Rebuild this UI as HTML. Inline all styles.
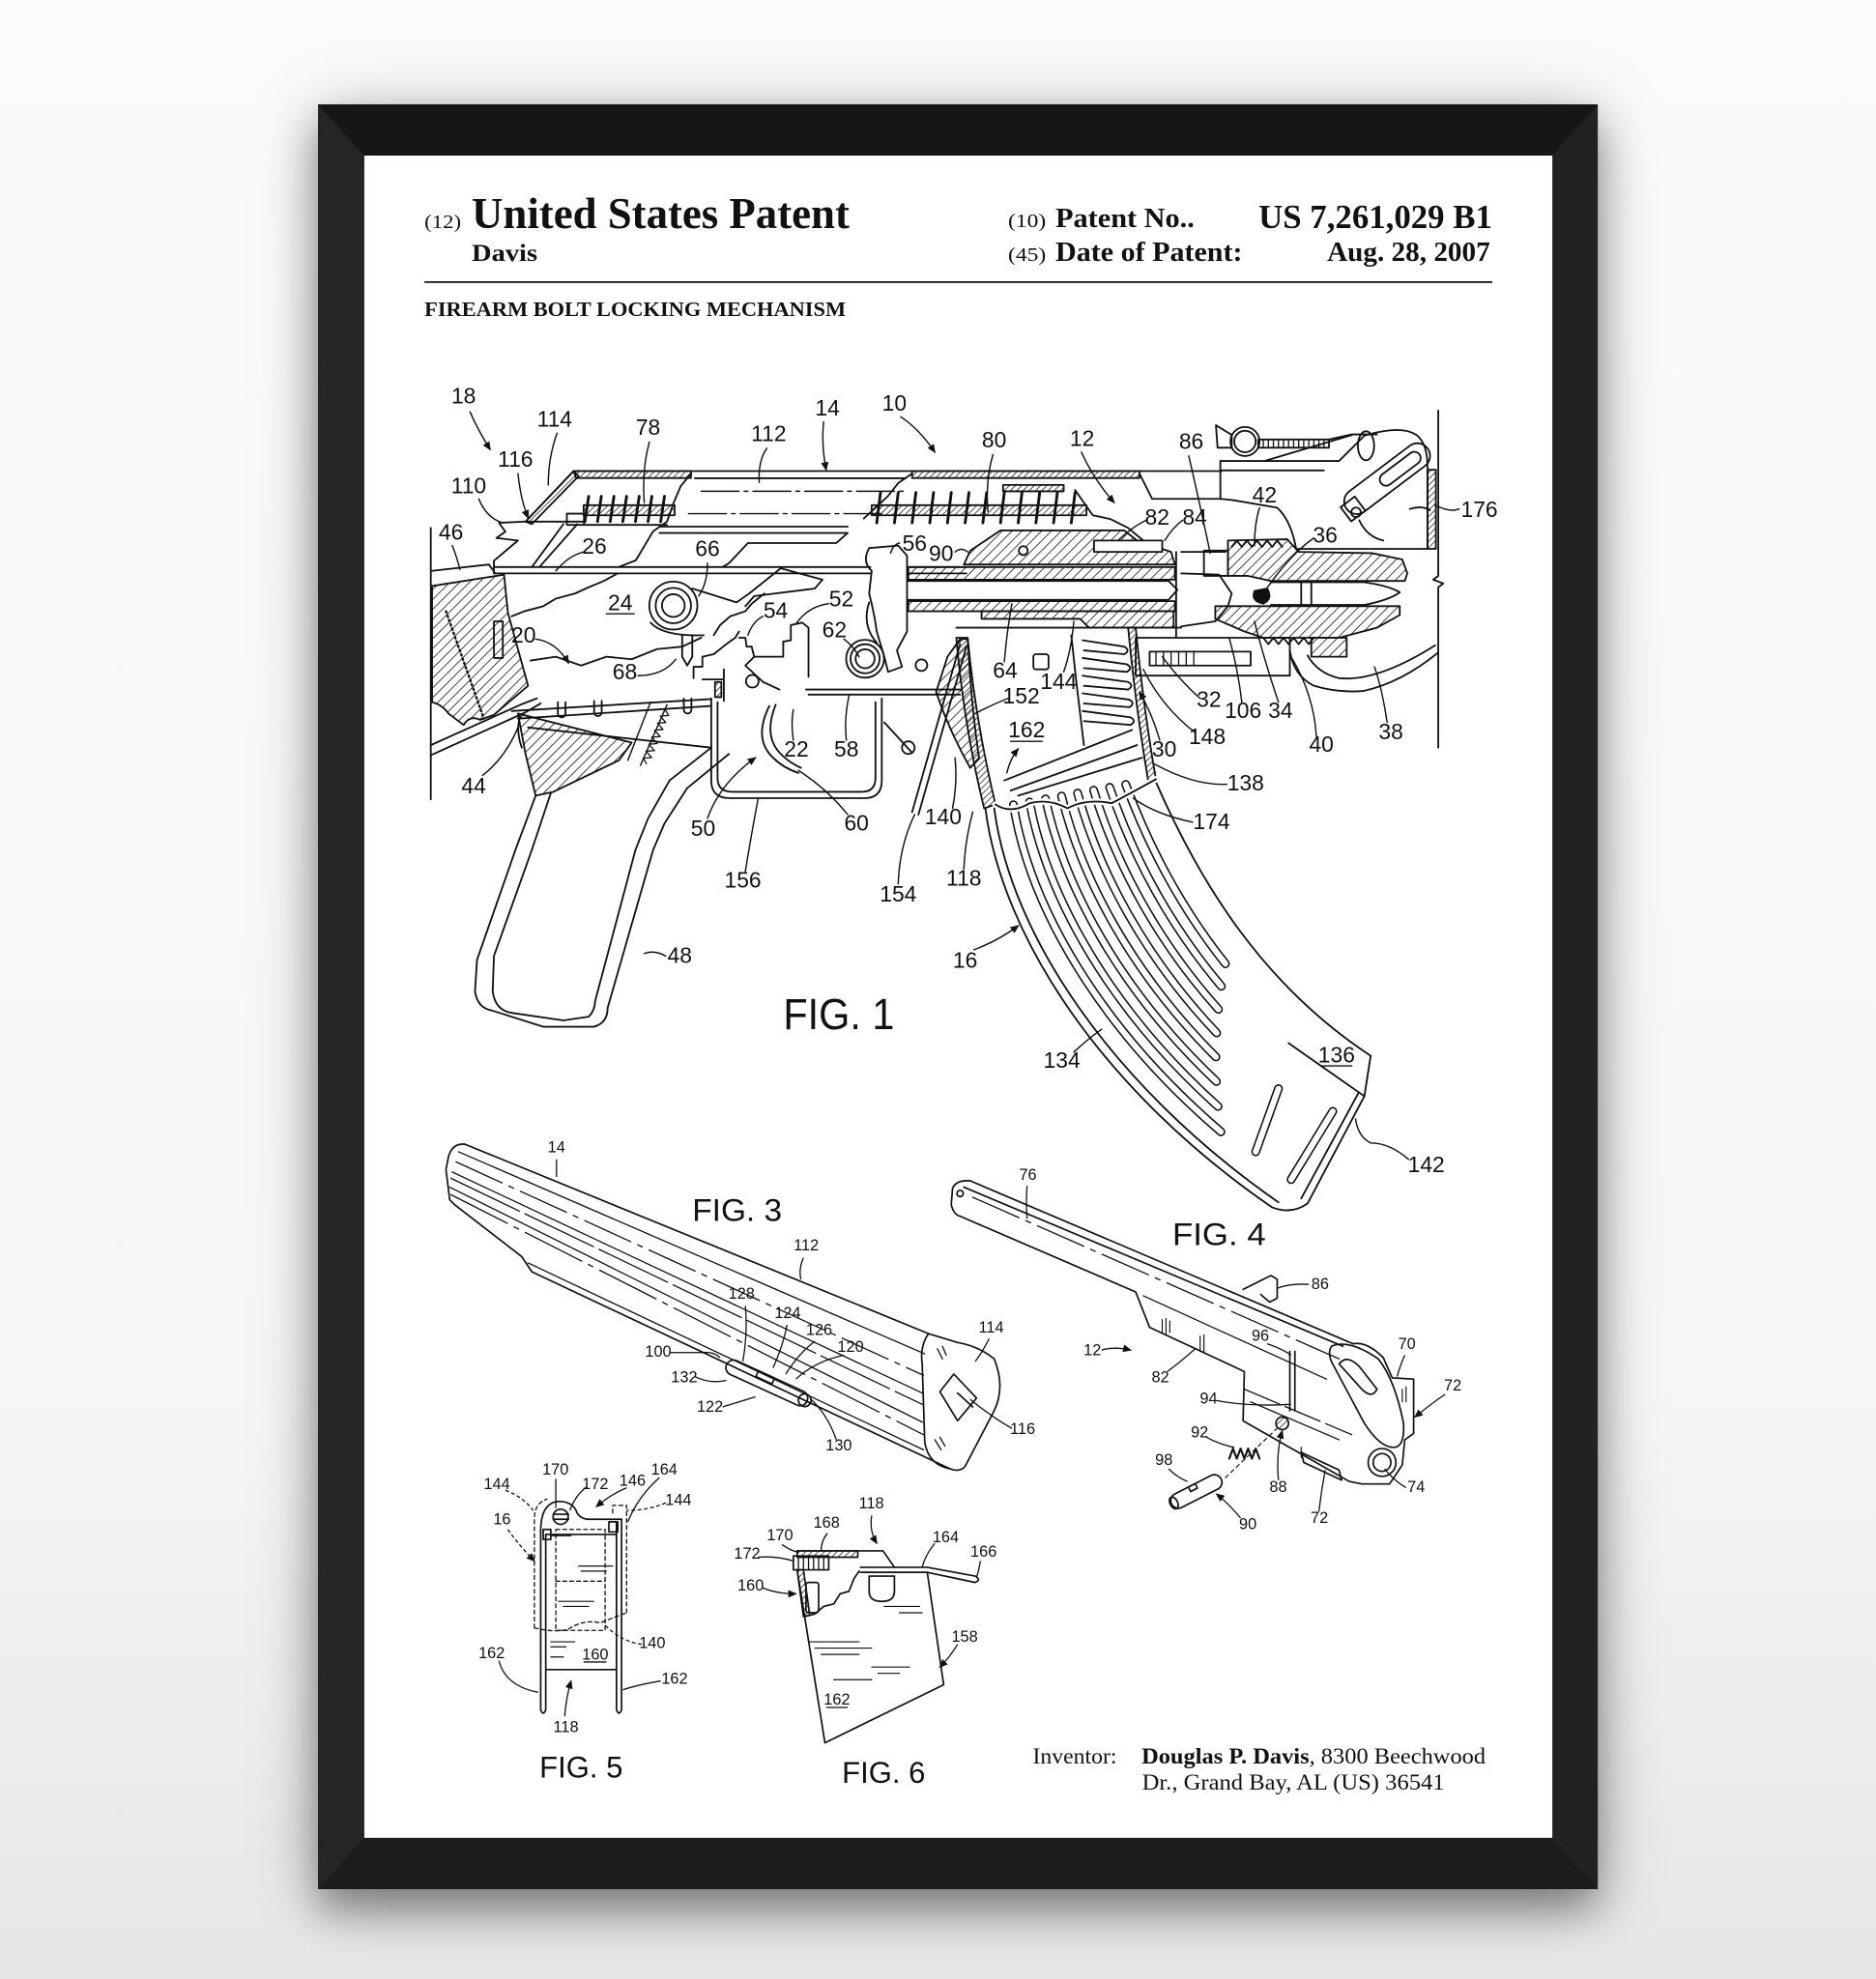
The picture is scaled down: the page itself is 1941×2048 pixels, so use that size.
<!DOCTYPE html>
<html><head><meta charset="utf-8"><style>
html,body{margin:0;padding:0;}
body{width:1941px;height:2048px;position:relative;overflow:hidden;background:linear-gradient(180deg,#fbfbfb 0%,#f6f6f6 70%,#e6e6e6 100%);}
.sh{position:absolute;left:329px;top:108px;width:1324px;height:1847px;box-shadow:0 22px 40px rgba(0,0,0,0.38),0 6px 70px rgba(0,0,0,0.22);}
svg{position:absolute;left:0;top:0;}
.n{font-family:"Liberation Sans Narrow","Liberation Sans",Arial,sans-serif;font-size:17.5px;text-anchor:middle;fill:#111;}
.s{font-family:"Liberation Sans Narrow","Liberation Sans",Arial,sans-serif;font-size:12.5px;text-anchor:middle;fill:#111;}
.f{font-family:"Liberation Sans",Arial,sans-serif;fill:#111;}
.t{font-family:"Liberation Serif","Times New Roman",serif;fill:#111;}
.tb{font-family:"Liberation Serif","Times New Roman",serif;font-weight:bold;fill:#111;}
</style></head><body>
<div class="sh"></div>
<svg width="1941" height="2048" viewBox="0 0 1485 1567" preserveAspectRatio="none" xmlns="http://www.w3.org/2000/svg">
<defs>
<pattern id="h" width="5.5" height="5.5" patternUnits="userSpaceOnUse" patternTransform="rotate(45)"><line x1="0" y1="0" x2="0" y2="5.5" stroke="#111" stroke-width="1.2"/></pattern>
<pattern id="hd" width="3.5" height="3.5" patternUnits="userSpaceOnUse" patternTransform="rotate(45)"><line x1="0" y1="0" x2="0" y2="3.5" stroke="#111" stroke-width="1.1"/></pattern>
<marker id="ar" markerWidth="7" markerHeight="6" refX="6" refY="3" orient="auto" markerUnits="userSpaceOnUse"><path d="M0,0 L7,3 L0,6 Z" fill="#111"/></marker>
</defs>

<!-- FRAME -->
<rect x="251.7" y="82.6" width="1013" height="1413.2" fill="#1a1a1a"/>
<polygon points="251.7,82.6 1264.7,82.6 1228.8,123.2 288.4,123.2" fill="#161616"/>
<polygon points="251.7,1495.8 1264.7,1495.8 1228.8,1455.2 288.4,1455.2" fill="#1c1c1c"/>
<polygon points="251.7,82.6 288.4,123.2 288.4,1455.2 251.7,1495.8" fill="#252525"/>
<polygon points="1264.7,82.6 1228.8,123.2 1228.8,1455.2 1264.7,1495.8" fill="#222"/>
<rect x="288.4" y="123.2" width="940.4" height="1332" fill="#fff"/>

<!-- HEADER -->
<text class="t" x="336" y="180.6" font-size="15" textLength="29" lengthAdjust="spacingAndGlyphs">(12)</text>
<text class="tb" x="373.4" y="180.6" font-size="34.5" textLength="299" lengthAdjust="spacingAndGlyphs">United States Patent</text>
<text class="tb" x="373.4" y="206.6" font-size="19.5" textLength="52" lengthAdjust="spacingAndGlyphs">Davis</text>
<text class="t" x="798" y="179.8" font-size="15" textLength="30" lengthAdjust="spacingAndGlyphs">(10)</text>
<text class="tb" x="835.5" y="179.8" font-size="21.5" textLength="110" lengthAdjust="spacingAndGlyphs">Patent No..</text>
<text class="tb" x="996.2" y="180.6" font-size="27" textLength="185" lengthAdjust="spacingAndGlyphs">US 7,261,029 B1</text>
<text class="t" x="798" y="206.6" font-size="15" textLength="30" lengthAdjust="spacingAndGlyphs">(45)</text>
<text class="tb" x="835.5" y="206.6" font-size="21.5" textLength="148" lengthAdjust="spacingAndGlyphs">Date of Patent:</text>
<text class="tb" x="1050.5" y="206.6" font-size="21.5" textLength="129" lengthAdjust="spacingAndGlyphs">Aug. 28, 2007</text>
<line x1="336" y1="223.4" x2="1181.3" y2="223.4" stroke="#222" stroke-width="1.4"/>
<text class="tb" x="336" y="250.2" font-size="16" textLength="333.5" lengthAdjust="spacingAndGlyphs">FIREARM BOLT LOCKING MECHANISM</text>

<!-- FIG 1 DRAWING -->
<g fill="none" stroke="#111" stroke-width="1.4" stroke-linejoin="round" stroke-linecap="round">
<!-- stock -->
<path d="M341,418 V633"/>
<path d="M342,464 L399,455 L402,485 L418,543 L391,566 L380,570 Q372,566 367,574 L355,565 Q350,558 342,556 Z" fill="url(#h)"/>
<path d="M353,484 L383,569" stroke-width="1.8" stroke-dasharray="1.2 2.4"/>
<path d="M342,452 L387,447 L392,454"/>
<path d="M341,598 L416,564 L428,557"/><path d="M341,590 L412,558 L425,553"/>
<rect x="391" y="492" width="7" height="29"/>
<!-- receiver rear & cover -->
<path d="M391,454 L391,444 L410,428 L393,426 L400,421 L395,414 L416,413 L454,373 L967,373"/>
<polygon points="416,413 454,373 458,377 421,415" fill="url(#hd)"/>
<polygon points="454,373 547,373 547,378.5 456,378.5" fill="url(#hd)"/>
<polygon points="722,373 902,373 902,378.5 722,378.5" fill="url(#hd)"/>
<path d="M550,378.7 H717"/>
<path d="M555,389 H718" stroke-dasharray="30 4 3 4" stroke-width="1.1"/>
<path d="M545,406.7 H700" stroke-dasharray="30 4 3 4" stroke-width="1.1"/>
<path d="M522,417 H671"/><path d="M522,422 H671 L662,430 L592,430 L577,446 L572,449"/>
<path d="M547,375 L538.8,385 L533.4,397.8 L528,413 L517,420.7 L503.3,443.7 L489.7,449"/>
<path d="M722,375 L711,382.5 L703,392.7 L692,403 L683.7,410.6"/>
<path d="M902,375 L912,395 L967,395"/>
<!-- springs -->
<rect x="448.7" y="406.7" width="13.6" height="8.9"/>
<rect x="462" y="400" width="72" height="8" fill="url(#hd)"/>
<path d="M466,393 l-3,20 M476,393 l-3,20 M486,393 l-3,20 M496,393 l-3,20 M506,393 l-3,20 M516,393 l-3,20 M526,393 l-3,20" stroke-width="2.2"/>
<rect x="690" y="400" width="170" height="8" fill="url(#hd)"/>
<path d="M697,390 l-3,24 M711,390 l-3,24 M725,390 l-3,24 M739,390 l-3,24 M753,390 l-3,24 M767,390 l-3,24 M781,390 l-3,24 M795,390 l-3,24 M809,390 l-3,24 M823,390 l-3,24 M837,390 l-3,24 M851,390 l-3,24" stroke-width="2.2"/>
<rect x="794" y="384" width="48" height="5" fill="url(#hd)"/>
<path d="M851,388 L865,408 L879,411 L893,418 L905,428"/>
<path d="M416,413 H462 M462,415.6 H528"/>
<path d="M446,415 L421,449 M457,415 L427,449"/>
<!-- receiver lines -->
<path d="M391,449 H689 M391,454 H689 M720,449 H765 M720,454 H765"/>
<!-- jagged breaks -->
<path d="M489,454 L478,460 L466,465 L455,470 L440,474 L430,480 L415,484 L405,488"/>
<path d="M420,523 L440,520 L460,527 L480,520 L500,522 L520,514 L540,512 L555,505"/>
<path d="M605,470 L595,478 L590,484 L578,488 L570,495 L565,503"/>
<!-- hammer -->
<circle cx="533" cy="479.5" r="19"/><circle cx="533" cy="479.5" r="14"/><circle cx="533" cy="479.5" r="9"/>
<path d="M548,466 L583,477 L593,470 L618,450 L651,459 L645,466 L597,472 L590,480"/>
<path d="M515,493 Q525,504 557,503"/>
<path d="M540,503 L540,520 L544,527 L548,520 L548,503"/>
<!-- trigger group -->
<path d="M549,537 V528 L556,528 L556,520 L565,518 L575,510 L582,505 L585,500"/>
<path d="M585,505 L590,505 L591,512 L595,512 L597,520 L620,520 L620,508 L626,507 L626,495 L635,493 L640,497 L640,536"/>
<path d="M597,520 L590,527 L604,540 L617,546"/>
<circle cx="595.5" cy="539.4" r="5"/>
<path d="M556,538 H573 M573,530 V555" /><rect x="566" y="540" width="5" height="12" fill="url(#hd)"/>
<path d="M688,434 Q682,445 690,452 L688,470 Q692,485 694,500 L700,520 L703,532 L714,528 L710,515 L718,500 L718,440 L711,432 Z"/>
<circle cx="684.8" cy="521.6" r="15"/><circle cx="684.8" cy="521.6" r="11.5"/><circle cx="684.8" cy="521.6" r="7.5"/>
<path d="M694,509 Q682,495 688,477"/>
<circle cx="729.4" cy="526.7" r="4.6"/>
<path d="M638,546 H760 M640,550 H760"/>
<!-- lower receiver rivets -->
<path d="M405,563 L563,553.5 M410,569 L563,559"/>
<path d="M441.6,556 v9 a3,3 0 0 0 6,0 v-9 M470.3,555 v9 a3,3 0 0 0 6,0 v-9 M541.3,553 v9 a3,3 0 0 0 6,0 v-9"/>
<path d="M519,558 l4,3 l-6,3 l6,3 l-6,3 l6,3 l-6,3 l6,3 l-6,3 l6,3 l-6,3 l6,3 l-6,3 l6,3 l-6,3 l4,3" stroke-width="1" transform="rotate(22 512 580)"/>
<path d="M515,556 L497,602 M528,558 L507,606" stroke-width="1.1"/>
<path d="M418,576 L563,592"/>
<path d="M410,565 L500,588 L490,602 L438,627 L424,630 L416,597 Z" fill="url(#h)"/>
<path d="M412,566 Q408,578 413,592"/>
<!-- trigger guard -->
<path d="M563,553 V618 Q563,632 578,632 H684 Q698,632 698,618 V553"/>
<path d="M568,556 V616 Q568,627 580,627 H682 Q693,627 693,616 V556"/>
<path d="M609,559 Q596,585 612,600 Q620,608 632,612"/>
<path d="M614,558 Q604,583 618,597 Q625,604 634,608"/>
<!-- grip -->
<path d="M563,592 L530,618 L513,648 L503,673 L471,793 Q471,800 466,805 L446,808 L405,802 Q392,800 390,785 L391,757 L421,673 L436,628"/>
<path d="M577,597 L544,624 L526,652 L517,673 L481,798 Q481,810 470,813 L430,813 L389,800 Q378,798 376,785 L377.6,760 L408,673 L424,630"/>
<!-- catch lever -->
<path d="M760,510 L722,643 M765,512 L727,645"/>
<path d="M700,572 L722,596"/><circle cx="719" cy="592" r="5"/>
<path d="M741,548 L750,520 L760,506 L766,506 Q769,560 775,600 L768,608 Q752,580 741,548 Z" fill="url(#h)"/>
<!-- carrier / barrel -->
<path d="M763,447 L768,436 L792,420 L890,420 L900,428 L927,437 L930,447 Z" fill="url(#h)"/>
<rect x="866" y="428" width="54" height="9" fill="#fff"/>
<circle cx="810" cy="436" r="3.5" fill="#fff"/>
<rect x="719" y="449" width="211" height="10" fill="url(#h)"/>
<path d="M719,460 H925 L932,467 L925,475 H719"/>
<rect x="719" y="476" width="211" height="8" fill="url(#h)"/>
<path d="M777,484 L929,484 L929,497 L862,497 L855,490 L777,490 Z" fill="url(#h)"/>
<path d="M931,437 V504 M935,437 H970"/>
<path d="M935,454 L965,455 L975,470 L972,480 L962,492 L935,496"/>
<path d="M972,428 L1019,427 L1028,437 L1086,438 L1110,443 L1114,454 L1112,460 L1006,460 L988,456 L972,456 Z" fill="url(#h)"/>
<path d="M1006,461 H1080 Q1100,464 1108,469 Q1100,475 1080,479 H1006 M1030,461 V479 M1038,461 V479"/>
<path d="M993,468 Q990,476 1000,478 Q1008,474 1003,466 Z" fill="#111"/>
<path d="M962,480 L1108,480 L1108,487 L1090,497 L1060,505 L1000,505 L985,500 L962,490 Z" fill="url(#h)"/>
<path d="M975,433 l4,-5 l4,5 l4,-5 l4,5 l4,-5 l4,5 l4,-5 l4,5 l4,-5 l4,5"/>
<path d="M1000,505 l4,5 l4,-5 l4,5 l4,-5 l4,5 l4,-5 l4,5 l4,-5 l4,5 l4,-5"/>
<rect x="953" y="436" width="19" height="20"/>
<!-- sight block -->
<path d="M966,395 V365 H1060 L1080,345 Q1110,336 1122,345 Q1130,352 1130,370 V434.6 H1026 Q1022,412 1011,402 L976,396 Z"/>
<path d="M966,372.5 H1048"/>
<path d="M962.5,336.7 L975,344.3 L975,354.5 L963.8,354.5 Z"/>
<circle cx="985.5" cy="349.6" r="11.5"/><circle cx="985.5" cy="349.6" r="8.5"/>
<rect x="996" y="348" width="56" height="6.5"/>
<path d="M1000,348 v6 M1004,348 v6 M1008,348 v6 M1012,348 v6 M1016,348 v6 M1020,348 v6 M1024,348 v6 M1028,348 v6 M1032,348 v6 M1036,348 v6 M1040,348 v6 M1044,348 v6 M1048,348 v6" stroke-width="1"/>
<path d="M1052,348 L1070,344 L1090,344 M1001,365 L1070,344.5"/>
<ellipse cx="1081.3" cy="353" rx="6.4" ry="11.5"/>
<g transform="translate(1098,379) rotate(-37)"><rect x="-40" y="-10" width="80" height="20" rx="10"/><rect x="-6" y="-5" width="38" height="10" rx="5"/></g>
<rect x="1064" y="396" width="14" height="14" transform="rotate(-37 1071 403)"/>
<circle cx="1073.4" cy="405.7" r="3.8"/>
<path d="M1076,412 Q1082,425 1095,428"/>
<rect x="1130" y="372" width="6.6" height="62.6" fill="url(#hd)"/>
<path d="M1138.5,325 V456 l-4,3 l8,3 l-4,3 V592"/>
<path d="M1116,403 Q1126,400 1132,404"/>
<!-- lower fore parts -->
<rect x="899" y="505" width="122" height="30"/>
<rect x="910" y="516" width="80" height="11"/>
<path d="M915,516 v11 M921,516 v11 M927,516 v11 M933,516 v11 M939,516 v11 M945,516 v11" stroke-width="1"/>
<rect x="1038" y="505" width="28" height="15" fill="url(#h)"/>
<path d="M1021,515 Q1024,535 1040,543 Q1060,549 1080,547 Q1110,540 1138,517"/>
<path d="M1035,519 Q1043,533 1060,537 Q1090,540 1136,511"/>
<!-- magazine upper -->
<path d="M757,497 H935"/>
<path d="M757,505 L766,505 Q772,570 788,637 L779,640 Q763,575 757,505 Z" fill="url(#hd)"/>
<path d="M893,497 L899,497 Q905,560 915,617 L909,619 Q899,560 893,497 Z" fill="url(#hd)"/>
<path d="M848,503 L852,540 L858,590"/>
<path d="M857,507 L890,512 Q895,515 890,518 L858,515 M857,521 L892,526 Q897,529 892,532 L858,529 M857,535 L893,540 Q898,543 893,546 L858,543 M857,549 L894,554 Q899,557 894,560 L858,557 M857,563 L895,568 Q900,571 895,574 L858,571"/>
<path d="M795,618 L896,578 M800,626 L900,590 M806,630 L904,600"/>
<rect x="818" y="518" width="12" height="12" rx="2"/>
<path d="M788,637 Q800,645 815,636 Q830,632 845,640 Q860,632 880,636 Q895,628 915,617"/>
<!-- magazine body -->
<path d="M787,640 C800,740 880,860 1012,952"/>
<path d="M780,640 C793,742 873,864 1007,956"/>
<path d="M914,617 C950,700 1000,780 1085,836"/>
<path d="M1007,956 Q1022,962 1035,953 L1080,868 L1085,836"/>
<path d="M1030,949 L1075,866"/>
<path d="M1020,826 L1080,868"/>
<g stroke-linecap="round">
<g stroke="#111" stroke-width="7">
<path pathLength="100" stroke-dasharray="82 200" d="M802.2,637.2 C818,735.2 894.4,850.4 1020.8,938.1"/>
<path pathLength="100" stroke-dasharray="78 200" d="M815,635 C833,731.2 906.4,842.4 1028,926.5"/>
<path pathLength="100" stroke-dasharray="74 200" d="M827.6,632.6 C848,727.2 918.4,834.4 1035.4,914.9"/>
<path pathLength="100" stroke-dasharray="70 200" d="M840.3,630.3 C863,723.2 930.4,826.4 1042.7,903.3"/>
<path pathLength="100" stroke-dasharray="66 200" d="M853,628 C878,719.2 942.4,818.4 1050,891.7"/>
<path pathLength="100" stroke-dasharray="62 200" d="M865.7,625.7 C893,715.2 954.4,810.4 1057.3,880.1"/>
<path pathLength="100" stroke-dasharray="58 200" d="M878.4,623.4 C908,711.2 966.4,802.4 1064.6,868.5"/>
<path pathLength="100" stroke-dasharray="54 200" d="M891.1,621.1 C923,707.2 978.4,794.4 1071.9,856.9"/>
<path d="M994,912 L1012,862 M1022,934 L1055,880"/>
</g>
<g stroke="#fff" stroke-width="4.6">
<path pathLength="100" stroke-dasharray="82 200" d="M802.2,637.2 C818,735.2 894.4,850.4 1020.8,938.1"/>
<path pathLength="100" stroke-dasharray="78 200" d="M815,635 C833,731.2 906.4,842.4 1028,926.5"/>
<path pathLength="100" stroke-dasharray="74 200" d="M827.6,632.6 C848,727.2 918.4,834.4 1035.4,914.9"/>
<path pathLength="100" stroke-dasharray="70 200" d="M840.3,630.3 C863,723.2 930.4,826.4 1042.7,903.3"/>
<path pathLength="100" stroke-dasharray="66 200" d="M853,628 C878,719.2 942.4,818.4 1050,891.7"/>
<path pathLength="100" stroke-dasharray="62 200" d="M865.7,625.7 C893,715.2 954.4,810.4 1057.3,880.1"/>
<path pathLength="100" stroke-dasharray="58 200" d="M878.4,623.4 C908,711.2 966.4,802.4 1064.6,868.5"/>
<path pathLength="100" stroke-dasharray="54 200" d="M891.1,621.1 C923,707.2 978.4,794.4 1071.9,856.9"/>
<path d="M994,912 L1012,862 M1022,934 L1055,880"/>
</g>
</g>
<path d="M788,637 Q800,645 815,636 Q830,632 845,640 Q860,632 880,636 Q895,628 915,617" stroke="#fff" stroke-width="5"/>
<path d="M788,637 Q800,645 815,636 Q830,632 845,640 Q860,632 880,636 Q895,628 915,617"/>

<!-- FIG 1 leaders -->
<g stroke-width="1.1">
<path d="M372,326 Q378,340 388,356" marker-end="url(#ar)"/>
<path d="M441,343 Q434,362 434,384"/>
<path d="M514,350 Q508,372 510,398"/>
<path d="M607,355 Q600,365 601,382"/>
<path d="M652,334 Q650,352 654,372" marker-end="url(#ar)"/>
<path d="M713,330 Q728,340 740,358" marker-end="url(#ar)"/>
<path d="M410,375 Q412,395 418,410" marker-end="url(#ar)"/>
<path d="M379,395 Q385,410 398,414"/>
<path d="M358,432 Q362,442 364,451"/>
<path d="M462,437 Q450,440 440,452"/>
<path d="M560,446 Q560,462 553,472"/>
<path d="M712,430 Q707,431 705,438"/>
<path d="M756,437 Q761,433 766,437"/>
<path d="M480,486 H502"/>
<path d="M656,478 Q640,480 630,494"/>
<path d="M604,488 Q596,492 592,503"/>
<path d="M668,506 Q676,512 680,520"/>
<path d="M424,506 Q440,508 450,525" marker-end="url(#ar)"/>
<path d="M505,535 Q525,535 535,522"/>
<path d="M628,586 Q626,572 628,562"/>
<path d="M670,586 Q668,570 672,551"/>
<path d="M382,614 Q400,600 410,576"/>
<path d="M560,648 Q570,620 598,600" marker-end="url(#ar)"/>
<path d="M671,645 Q655,625 632,610"/>
<path d="M754,640 Q758,620 756,600"/>
<path d="M786,360 Q780,380 782,405"/>
<path d="M856,358 Q866,380 882,398" marker-end="url(#ar)"/>
<path d="M941,361 Q950,400 958,438"/>
<path d="M1155,403 Q1148,406 1136,400"/>
<path d="M907,412 Q895,418 885,428"/>
<path d="M936,412 Q928,418 922,428"/>
<path d="M997,402 Q993,415 993,432"/>
<path d="M1040,426 Q1020,440 1000,470"/>
<path d="M795,524 Q797,500 801,478"/>
<path d="M842,532 Q848,515 850,492"/>
<path d="M798,553 Q785,558 772,565"/>
<path d="M800,587 H825"/>
<path d="M797,612 Q800,600 806,593" marker-end="url(#ar)"/>
<path d="M950,553 Q935,540 920,520"/>
<path d="M983,556 Q980,530 973,505"/>
<path d="M1012,556 Q1000,520 993,492"/>
<path d="M946,580 Q920,560 905,530"/>
<path d="M918,586 Q912,565 902,548" marker-end="url(#ar)"/>
<path d="M1042,583 Q1040,550 1022,520"/>
<path d="M1098,572 Q1094,545 1088,528"/>
<path d="M971,621 Q945,622 914,605"/>
<path d="M944,651 Q915,645 897,632"/>
<path d="M590,690 Q594,665 600,633"/>
<path d="M711,700 Q712,670 724,645"/>
<path d="M763,688 Q764,665 770,643"/>
<path d="M527,757 Q518,752 510,755"/>
<path d="M771,752 Q790,745 806,733" marker-end="url(#ar)"/>
<path d="M850,833 Q862,822 872,815"/>
<path d="M1046,844 H1070"/>
<path d="M1115,918 Q1100,905 1085,905 Q1075,900 1073,886"/>
</g>
</g>

<!-- FIG 1 labels -->
<g>
<text class="n" x="367" y="319.3">18</text>
<text class="n" x="439" y="337.8">114</text>
<text class="n" x="513" y="344.3">78</text>
<text class="n" x="608.5" y="349.3">112</text>
<text class="n" x="655" y="328.9">14</text>
<text class="n" x="708" y="325.3">10</text>
<text class="n" x="408" y="369.7">116</text>
<text class="n" x="371" y="390.8">110</text>
<text class="n" x="357" y="427.3">46</text>
<text class="n" x="470.5" y="438.3">26</text>
<text class="n" x="560" y="440.3">66</text>
<text class="n" x="724" y="436">56</text>
<text class="n" x="745" y="444.3">90</text>
<text class="n" x="491" y="483.3">24</text>
<text class="n" x="666" y="480.3">52</text>
<text class="n" x="614" y="489.3">54</text>
<text class="n" x="660.5" y="504.8">62</text>
<text class="n" x="414.5" y="508.7">20</text>
<text class="n" x="494.6" y="538">68</text>
<text class="n" x="630.4" y="599.3">22</text>
<text class="n" x="670" y="599.3">58</text>
<text class="n" x="375" y="628.3">44</text>
<text class="n" x="556.6" y="661.7">50</text>
<text class="n" x="678" y="657.8">60</text>
<text class="n" x="746.6" y="652.7">140</text>
<text class="n" x="787" y="354.3">80</text>
<text class="n" x="856.6" y="353.1">12</text>
<text class="n" x="943" y="355.6">86</text>
<text class="n" x="1171" y="409.3">176</text>
<text class="n" x="916" y="415.6">82</text>
<text class="n" x="945.7" y="415.6">84</text>
<text class="n" x="1001" y="397.7">42</text>
<text class="n" x="1049" y="429.6">36</text>
<text class="n" x="795.7" y="536.7">64</text>
<text class="n" x="838" y="545.6">144</text>
<text class="n" x="808.4" y="557.1">152</text>
<text class="n" x="812.7" y="583.9">162</text>
<text class="n" x="957" y="559.6">32</text>
<text class="n" x="984" y="568.6">106</text>
<text class="n" x="1013.6" y="568.6">34</text>
<text class="n" x="955.6" y="589">148</text>
<text class="n" x="921.6" y="599.2">30</text>
<text class="n" x="1046" y="595.3">40</text>
<text class="n" x="1101" y="585.3">38</text>
<text class="n" x="986" y="626">138</text>
<text class="n" x="959" y="656.6">174</text>
<text class="n" x="588" y="702.6">156</text>
<text class="n" x="711" y="714">154</text>
<text class="n" x="763" y="701.3">118</text>
<text class="n" x="538" y="762.3">48</text>
<text class="n" x="764" y="766.3">16</text>
<text class="n" x="840.5" y="845.3">134</text>
<text class="n" x="1058" y="841.3">136</text>
<text class="n" x="1129" y="928.3">142</text>
<text class="f" x="620" y="815" font-size="35" textLength="88" lengthAdjust="spacingAndGlyphs">FIG. 1</text>
</g>

<!-- FIG 3 -->
<g fill="none" stroke="#111" stroke-width="1.3" stroke-linejoin="round" stroke-linecap="round">
<path d="M368,906 L735,1056"/>
<path d="M368,906 Q358,905 355,916 L353,926 L356,950 L360,954 L413,995 L421,1007 L752,1163 Q760,1166 764,1161 L787,1117 Q796,1098 787,1076 Q775,1066 758,1063 L735,1056"/>
<path d="M735,1056 Q728,1066 730,1080 L732,1142 Q735,1160 752,1163"/>
<path d="M744,1102 L755,1088 L773,1107 L758,1125 Z"/>
<path d="M758,1103 L770,1114"/>
<g stroke-width="1">
<path d="M363,912 L732,1072"/>
<path d="M361,920 L731,1089" stroke-dasharray="40 6 4 6"/>
<path d="M358,928 L730,1103"/>
<path d="M357,933 L730,1112" stroke-dasharray="60 5"/>
<path d="M356,940 L730,1126"/>
<path d="M357,946 L731,1136" stroke-dasharray="50 6 4 6"/>
<path d="M418,1000 L731,1148"/>
<path d="M742,1068 l4,8 M746,1066 l3,7 M740,1140 l5,8 M744,1138 l4,7"/>
</g>
<g transform="translate(607,1095) rotate(24.6)"><rect x="-35" y="-6" width="70" height="12" rx="6"/><rect x="-10" y="-6" width="14" height="5"/><circle cx="33" cy="0" r="5"/></g>
</g>
<g fill="none" stroke="#111" stroke-width="1">
<path d="M440.5,918 V932"/>
<path d="M636,996 Q632,1005 634,1013"/>
<path d="M590,1034 Q592,1055 588,1078"/>
<path d="M623,1049 Q620,1065 612,1083"/>
<path d="M645,1062 Q632,1072 622,1088"/>
<path d="M668,1073 Q645,1078 630,1092"/>
<path d="M530,1071 H555 Q565,1070 570,1075"/>
<path d="M550,1090 Q562,1096 575,1093"/>
<path d="M572,1114 Q585,1110 598,1106"/>
<path d="M662,1140 Q655,1120 642,1108"/>
<path d="M783,1060 Q778,1070 772,1078"/>
<path d="M801,1131 Q785,1122 768,1108"/>
</g>
<text class="s" x="440.5" y="912.5">14</text>
<text class="s" x="638.2" y="990.2">112</text>
<text class="s" x="587" y="1028.5">128</text>
<text class="s" x="623.5" y="1043.7">124</text>
<text class="s" x="648.4" y="1057.2">126</text>
<text class="s" x="673.3" y="1070.5">120</text>
<text class="s" x="521" y="1074.3">100</text>
<text class="s" x="541.6" y="1094.7">132</text>
<text class="s" x="562" y="1117.7">122</text>
<text class="s" x="664" y="1148.3">130</text>
<text class="s" x="784.6" y="1055.2">114</text>
<text class="s" x="809.5" y="1135.5">116</text>
<text class="f" x="548" y="966.6" font-size="25" textLength="71" lengthAdjust="spacingAndGlyphs">FIG. 3</text>

<!-- FIG 4 -->
<g fill="none" stroke="#111" stroke-width="1.3" stroke-linejoin="round" stroke-linecap="round">
<path d="M768,935 L1071,1064 M763,940 L1063,1066"/>
<path d="M768,935 Q757,934 754,941 L753,954 Q755,962 760,963"/>
<circle cx="760" cy="945" r="2.5"/>
<path d="M760,963 L899,1023 L910,1051 L985,1086 L984,1125 L1068,1173 L1078,1175 L1100,1175 L1110,1160 L1112,1140 L1119,1135 L1119,1092 L1102,1091 L1095,1075 Q1082,1062 1071,1064"/>
<path d="M1054,1066 Q1068,1060 1091,1076 Q1104,1092 1111,1127 Q1112,1145 1104,1146 Q1093,1147 1080,1127 L1056,1082 Q1050,1072 1054,1066 Z"/>
<path d="M1060,1080 Q1066,1072 1076,1082 L1090,1100 Q1086,1108 1078,1100 Z"/>
<circle cx="1094" cy="1158" r="11"/><circle cx="1094" cy="1158" r="7"/>
<path d="M905,1026 L1050,1092" stroke-width="1"/>
<path d="M770,948 L1060,1076" stroke-width="1" stroke-dasharray="40 6 4 6"/>
<path d="M990,1110 L1060,1140" stroke-width="1"/>
<path d="M985,1100 L1070,1136" stroke-width="1" stroke-dasharray="30 5"/>
<path d="M1021,1070 V1117 M1025,1070 V1117"/>
<path d="M984,1021 L1006,1010 L1011,1013 L1011,1028 L1005,1031 L998,1025"/>
<path d="M1030,1150 L1060,1164 L1062,1172 L1032,1158 Z"/>
<path d="M920,1045 v10 M923,1044 v12 M926,1046 v9 M950,1058 v12 M953,1057 v14 M1030,1146 v8 M1110,1100 v10 M1113,1098 v12" stroke-width="0.9"/>
<g transform="translate(947,1181) rotate(-27)"><rect x="-22" y="-6" width="44" height="12" rx="6"/><ellipse cx="-20" cy="0" rx="3" ry="5"/><rect x="-4" y="-6" width="6" height="4"/></g>
<path d="M973,1155 l3,-8 l3,8 l3,-8 l3,8 l3,-8 l3,8 l3,-8 l3,8" stroke-width="1.6"/>
<circle cx="1015" cy="1127" r="5" fill="url(#hd)"/>
<path d="M970,1170 L1012,1130" stroke-width="0.9" stroke-dasharray="3 3"/>
</g>
<g fill="none" stroke="#111" stroke-width="1">
<path d="M813,939 Q812,952 813,965"/>
<path d="M1036,1017 Q1022,1016 1011,1020"/>
<path d="M872,1069 Q882,1066 895,1069" marker-end="url(#ar)"/>
<path d="M924,1086 Q935,1078 946,1068"/>
<path d="M1003,1064 Q1015,1068 1022,1073"/>
<path d="M1112,1073 Q1108,1082 1106,1090"/>
<path d="M1144,1104 Q1135,1110 1120,1122" marker-end="url(#ar)"/>
<path d="M963,1109 Q990,1114 1022,1112"/>
<path d="M955,1138 Q966,1144 977,1146"/>
<path d="M925,1163 Q932,1170 940,1173"/>
<path d="M1012,1172 Q1010,1150 1015,1133" marker-end="url(#ar)"/>
<path d="M1113,1178 Q1103,1172 1096,1163"/>
<path d="M982,1202 Q972,1190 963,1183" marker-end="url(#ar)"/>
<path d="M1044,1197 Q1046,1180 1049,1164"/>
</g>
<text class="s" x="813.7" y="934.1">76</text>
<text class="s" x="1045" y="1020.8">86</text>
<text class="s" x="864.7" y="1073.1">12</text>
<text class="s" x="918.5" y="1094.7">82</text>
<text class="s" x="997.7" y="1061.6">96</text>
<text class="s" x="1113.7" y="1068">70</text>
<text class="s" x="1150" y="1101.1">72</text>
<text class="s" x="956.7" y="1111.3">94</text>
<text class="s" x="949.6" y="1138.1">92</text>
<text class="s" x="921.3" y="1159.8">98</text>
<text class="s" x="1011.8" y="1181.4">88</text>
<text class="s" x="1121" y="1181.4">74</text>
<text class="s" x="987.8" y="1210.8">90</text>
<text class="s" x="1044.4" y="1205.7">72</text>
<text class="f" x="928" y="986" font-size="25" textLength="74" lengthAdjust="spacingAndGlyphs">FIG. 4</text>

<!-- FIG 5 -->
<g fill="none" stroke="#111" stroke-width="1.3" stroke-linejoin="round" stroke-linecap="round">
<path d="M428,1212 V1354 Q430,1359 432,1354 V1215"/>
<path d="M488,1205 V1354 Q490,1359 492,1354 V1203"/>
<path d="M428,1212 Q428,1192 440,1189 Q452,1188 456,1196 Q458,1202 465,1203 L492,1203"/>
<circle cx="443.8" cy="1201" r="6"/><path d="M438,1199 H450 M438,1203 H450"/>
<path d="M432,1215 H488 M432,1322 H488"/>
<rect x="430" y="1211" width="6" height="8"/><rect x="482" y="1205" width="7" height="8"/>
<g stroke-dasharray="3 2.5" stroke-width="1">
<rect x="440" y="1211" width="39" height="80"/>
<path d="M440,1252 H479"/>
<path d="M423,1289 V1203 Q423,1190 433,1187"/>
<path d="M496,1277 V1192 L485,1192 L485,1200"/>
<path d="M423,1289 Q440,1293 450,1290 Q462,1282 475,1285 L496,1277"/>
</g>
<path d="M436,1216 H452 M458,1240 H485 M460,1244 H480 M442,1268 H470 M446,1272 H466 M436,1300 H455 M436,1304 H448 M436,1312 H446" stroke-width="0.9"/>
</g>
<g fill="none" stroke="#111" stroke-width="1">
<path d="M400,1180 Q414,1185 422,1196" stroke-dasharray="3 2"/>
<path d="M440,1171 V1194"/>
<path d="M465,1177 Q456,1183 451,1196"/>
<path d="M496,1178 Q484,1183 472,1193" marker-end="url(#ar)"/>
<path d="M522,1170 Q505,1185 497,1205"/>
<path d="M527,1190 Q513,1196 496,1196" stroke-dasharray="3 2"/>
<path d="M402,1211 Q412,1225 423,1236" stroke-dasharray="3 2" marker-end="url(#ar)"/>
<path d="M508,1302 Q492,1300 478,1286" stroke-dasharray="3 2"/>
<path d="M395,1315 Q400,1335 426,1340"/>
<path d="M523,1331 Q505,1334 493,1338"/>
<path d="M447,1359 Q448,1345 452,1331" marker-end="url(#ar)"/>
<path d="M462,1316 H480"/>
</g>
<text class="s" x="439.7" y="1167.5">170</text>
<text class="s" x="393.3" y="1178.9">144</text>
<text class="s" x="471.2" y="1178.9">172</text>
<text class="s" x="500.7" y="1176.4">146</text>
<text class="s" x="525.8" y="1167.5">164</text>
<text class="s" x="537" y="1191.7">144</text>
<text class="s" x="397.4" y="1207">16</text>
<text class="s" x="516.3" y="1305.1">140</text>
<text class="s" x="389.2" y="1312.8">162</text>
<text class="s" x="471.2" y="1314.1">160</text>
<text class="s" x="534" y="1333.2">162</text>
<text class="s" x="448" y="1371.5">118</text>
<text class="f" x="427" y="1407.5" font-size="24" textLength="66" lengthAdjust="spacingAndGlyphs">FIG. 5</text>

<!-- FIG 6 -->
<g fill="none" stroke="#111" stroke-width="1.3" stroke-linejoin="round" stroke-linecap="round">
<rect x="631" y="1228" width="48" height="5" fill="url(#hd)"/>
<path d="M631,1228 H699 L708,1241"/>
<rect x="628" y="1232" width="28" height="11"/>
<path d="M632,1232 v11 M636,1232 v11 M640,1232 v11 M644,1232 v11 M648,1232 v11 M652,1232 v11" stroke-width="1"/>
<path d="M681,1241 H734 L772,1248 Q777,1251 772,1253 L734,1245 H681"/>
<path d="M631,1243 L653,1380 L747,1334 L734,1245"/>
<polygon points="631,1243 636,1243 641,1279 636,1280" fill="url(#hd)"/>
<path d="M637,1280 L645,1278 L652,1272 L660,1270 L665,1262 L672,1260 L676,1250 L680,1244"/>
<rect x="638" y="1253" width="10" height="24" rx="2"/>
<path d="M688,1248 H708 V1260 Q708,1268 698,1268 Q688,1268 688,1260 Z"/>
<path d="M700,1272 H728 M712,1277 H730 M640,1300 H680 M645,1305 H690 M650,1310 H680 M690,1320 H720 M695,1325 H712 M660,1330 H690" stroke-width="0.9"/>
</g>
<g fill="none" stroke="#111" stroke-width="1">
<path d="M690,1200 Q688,1212 694,1222" marker-end="url(#ar)"/>
<path d="M655,1214 Q650,1220 650,1228"/>
<path d="M619,1223 Q626,1228 632,1229"/>
<path d="M740,1222 Q732,1232 730,1241"/>
<path d="M776,1236 Q775,1243 773,1249"/>
<path d="M600,1233 Q615,1232 628,1236"/>
<path d="M603,1257 Q615,1262 630,1262" marker-end="url(#ar)"/>
<path d="M758,1302 Q752,1312 744,1320" marker-end="url(#ar)"/>
<path d="M654,1352 H671"/>
</g>
<text class="s" x="689.8" y="1194.2">118</text>
<text class="s" x="654.3" y="1209.5">168</text>
<text class="s" x="617.4" y="1219.7">170</text>
<text class="s" x="748.6" y="1221">164</text>
<text class="s" x="778.6" y="1232.5">166</text>
<text class="s" x="591.4" y="1234.3">172</text>
<text class="s" x="594.2" y="1259.3">160</text>
<text class="s" x="763.6" y="1300.1">158</text>
<text class="s" x="662.5" y="1349.8">162</text>
<text class="f" x="666.5" y="1411.5" font-size="24" textLength="66" lengthAdjust="spacingAndGlyphs">FIG. 6</text>

<!-- INVENTOR -->
<text class="t" x="817.5" y="1396.3" font-size="18" textLength="66.5" lengthAdjust="spacingAndGlyphs">Inventor:</text>
<text class="t" x="903.6" y="1396.3" font-size="18" textLength="272.4" lengthAdjust="spacingAndGlyphs"><tspan font-weight="bold">Douglas P. Davis</tspan>, 8300 Beechwood</text>
<text class="t" x="904" y="1417" font-size="18" textLength="239.5" lengthAdjust="spacingAndGlyphs">Dr., Grand Bay, AL (US) 36541</text>
</svg>
</body></html>
